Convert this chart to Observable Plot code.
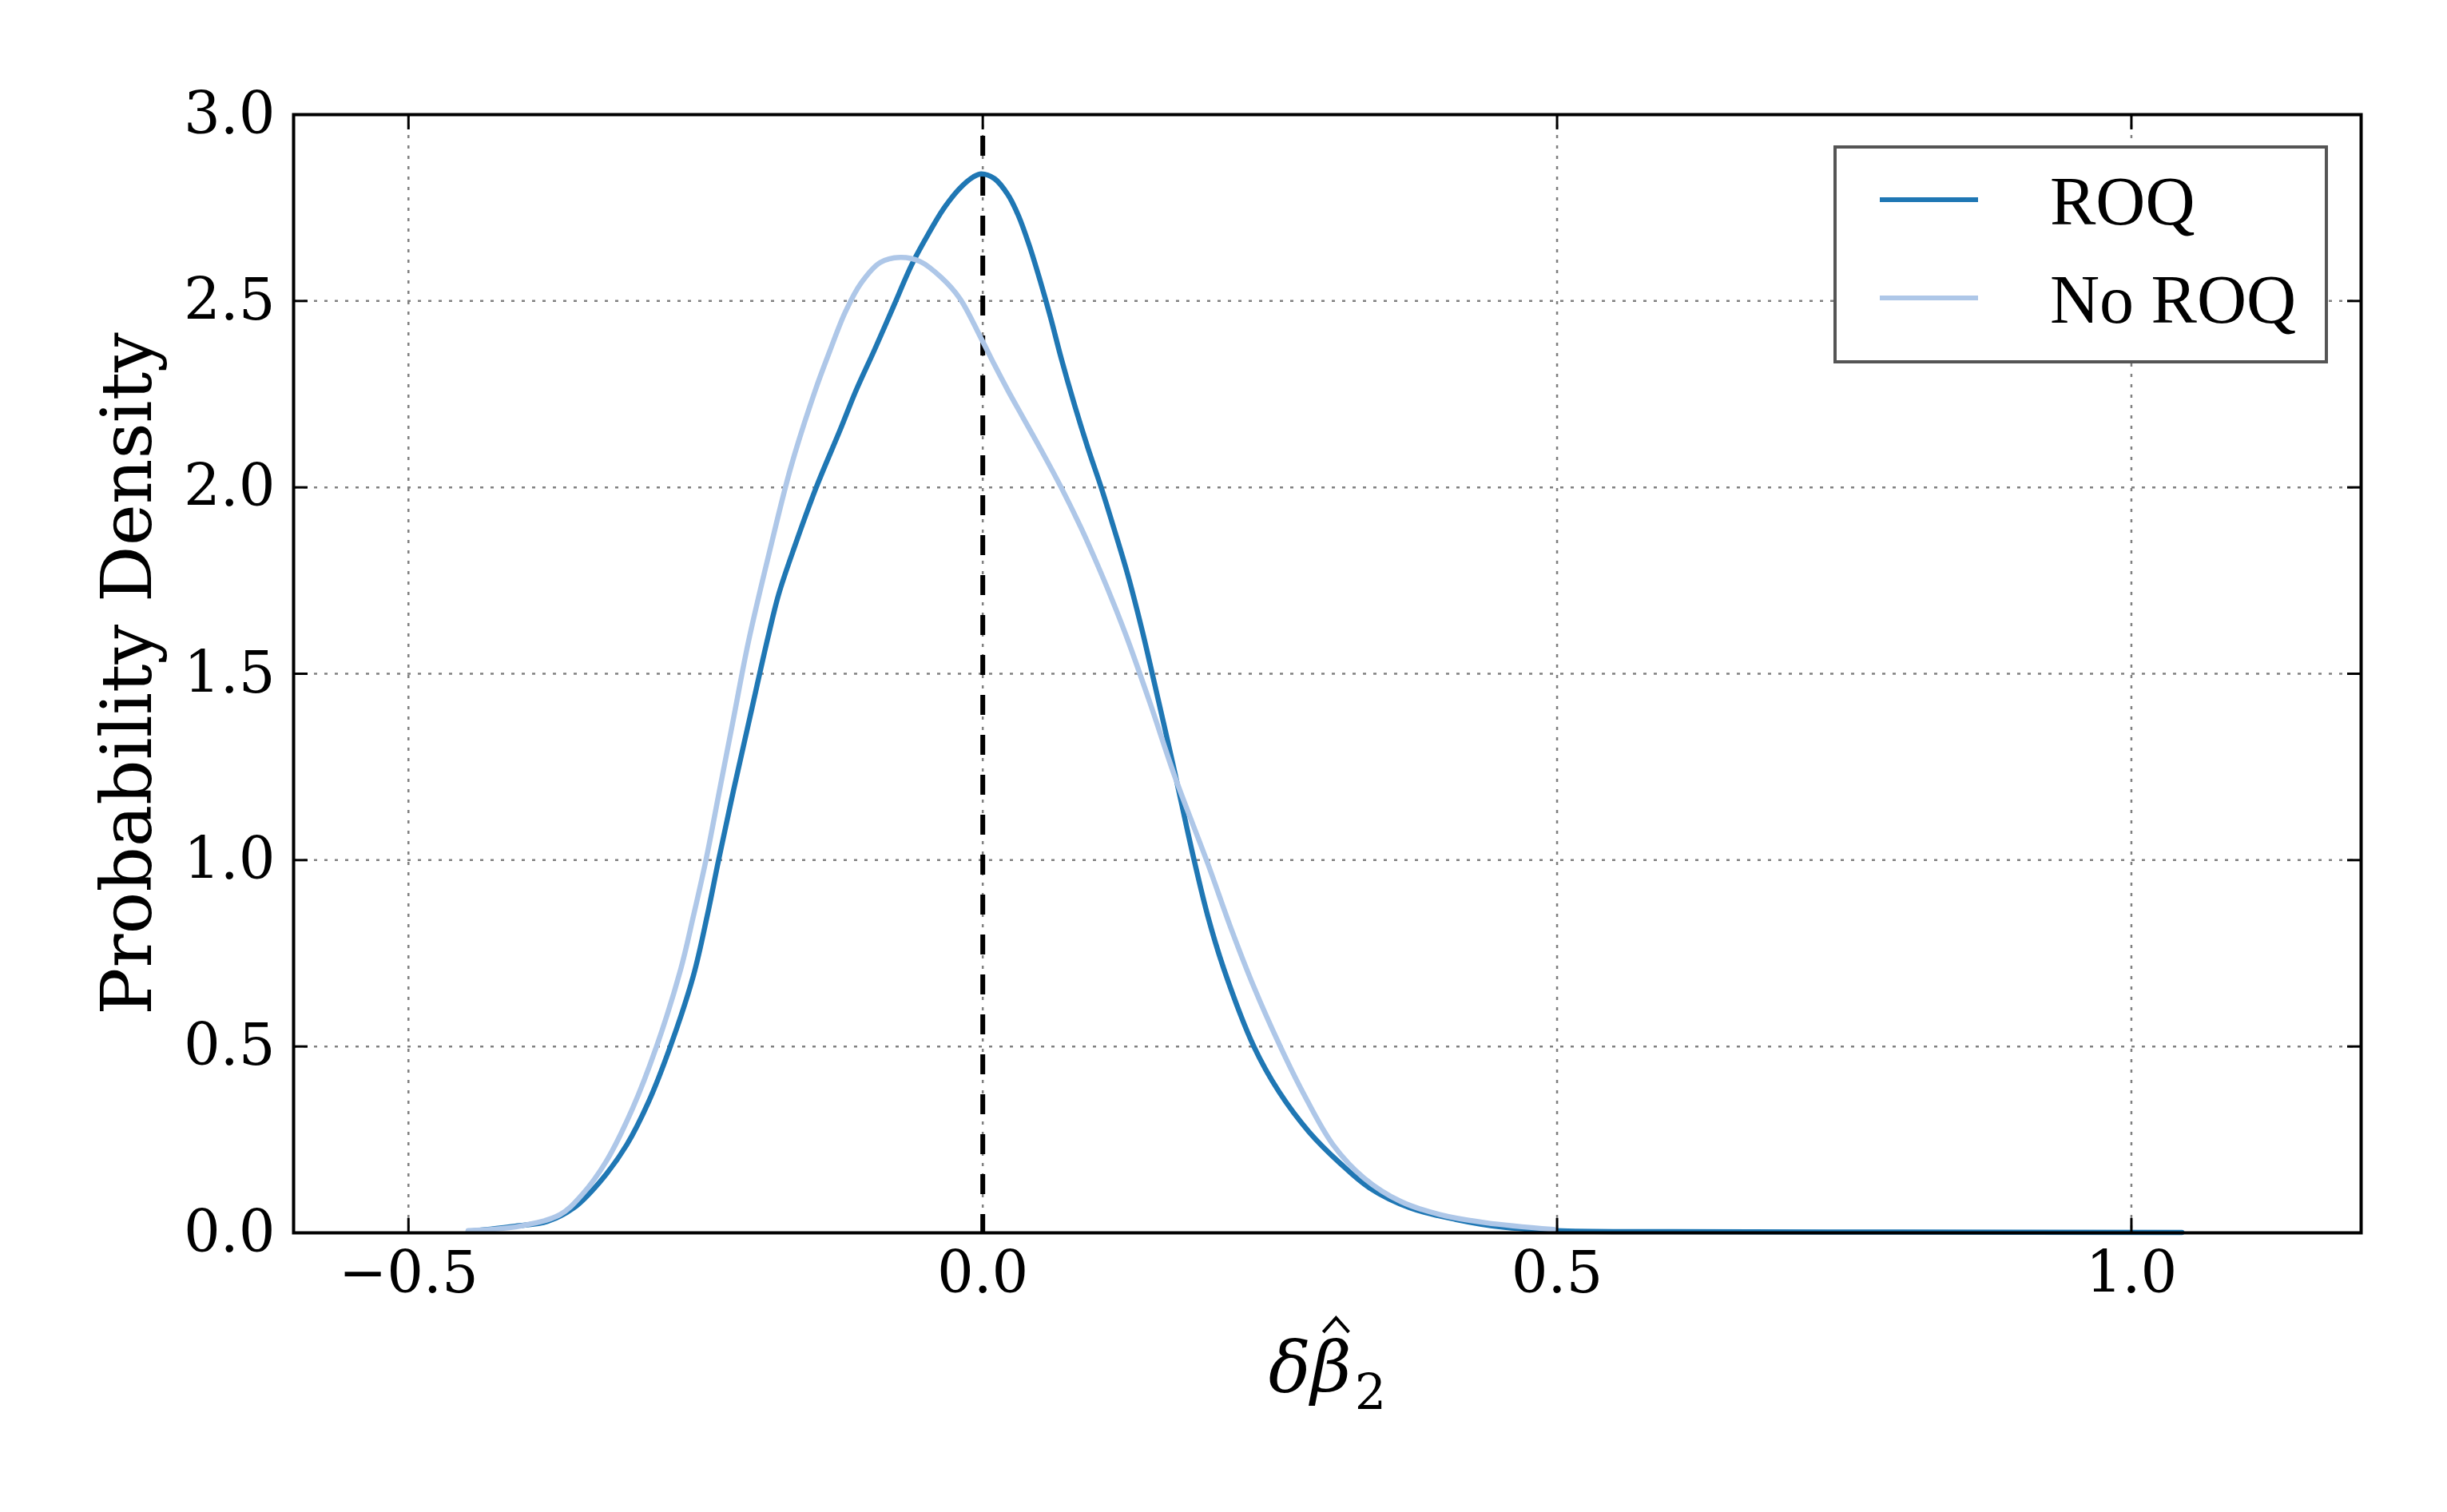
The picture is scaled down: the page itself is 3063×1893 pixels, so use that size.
<!DOCTYPE html>
<html>
<head>
<meta charset="utf-8">
<script src="https://cdn.jsdelivr.net/npm/d3@7"></script>
<script src="https://cdn.jsdelivr.net/npm/@observablehq/plot@0.6"></script>
<style>
  html, body { margin: 0; padding: 0; background: white; }
  #chart { position: relative; width: 3063px; height: 1893px; }
</style>
</head>
<body>
<div id="chart"></div>
<script>
// ---- Data ----
const roqX = [-0.448, -0.407, -0.379, -0.356, -0.333, -0.310, -0.291, -0.272, -0.252, -0.240, -0.230, -0.217, -0.2023, -0.1869, -0.1776, -0.1637, -0.1451, -0.1242, -0.1103, -0.0941, -0.0778, -0.0616, -0.0477, -0.0338, -0.0198, -0.0082, -0.0013, 0.0103, 0.0219, 0.0312, 0.0405, 0.0498, 0.0590, 0.0684, 0.0799, 0.0915, 0.1032, 0.1147, 0.1263, 0.1391, 0.1457, 0.165, 0.184, 0.196, 0.210, 0.236, 0.258, 0.284, 0.311, 0.337, 0.372, 0.412, 0.451, 0.499, 0.600, 0.800, 1.044];
const roqY = [0.004, 0.018, 0.031, 0.067, 0.138, 0.236, 0.351, 0.500, 0.689, 0.849, 1.000, 1.187, 1.389, 1.599, 1.714, 1.842, 1.999, 2.154, 2.260, 2.370, 2.485, 2.599, 2.678, 2.749, 2.803, 2.833, 2.841, 2.828, 2.785, 2.728, 2.649, 2.556, 2.456, 2.345, 2.221, 2.106, 1.999, 1.885, 1.765, 1.612, 1.525, 1.265, 1.000, 0.849, 0.707, 0.500, 0.378, 0.271, 0.187, 0.120, 0.067, 0.036, 0.016, 0.006, 0.003, 0.002, 0.001];

const noRoqX = [-0.448, -0.403, -0.368, -0.349, -0.328, -0.305, -0.284, -0.263, -0.252, -0.241, -0.229, -0.217, -0.204, -0.185, -0.167, -0.1463, -0.1335, -0.1196, -0.1057, -0.0894, -0.0720, -0.0546, -0.0361, -0.0198, -0.0013, 0.0103, 0.0219, 0.0498, 0.0684, 0.085, 0.0985, 0.1124, 0.1263, 0.146, 0.167, 0.196, 0.215, 0.236, 0.259, 0.279, 0.305, 0.332, 0.364, 0.398, 0.438, 0.497];
const noRoqY = [0.006, 0.018, 0.049, 0.102, 0.191, 0.333, 0.500, 0.707, 0.849, 1.000, 1.190, 1.380, 1.586, 1.836, 2.055, 2.256, 2.363, 2.471, 2.549, 2.603, 2.617, 2.606, 2.563, 2.506, 2.399, 2.328, 2.260, 2.106, 1.999, 1.895, 1.802, 1.700, 1.590, 1.418, 1.226, 0.990, 0.826, 0.660, 0.500, 0.375, 0.236, 0.147, 0.084, 0.049, 0.027, 0.009];

const xTicks = [-0.5, 0.0, 0.5, 1.0];
const yTicks = [0.0, 0.5, 1.0, 1.5, 2.0, 2.5, 3.0];
const seriesNames = ["ROQ", "No ROQ"];
const seriesColors = ["#1f77b4", "#aec7e8"];
const referenceLine = [0];
const xLabel = "δβ̂₂";
const yLabel = "Probability Density";

const roq = roqX.map((x, i) => ({x, y: roqY[i]}));
const noRoq = noRoqX.map((x, i) => ({x, y: noRoqY[i]}));

const fmt = d => d3.format(".1f")(d).replace("-", "−");
const gridStyle = {stroke: "#808080", strokeOpacity: 1, strokeWidth: 2.5, strokeDasharray: "4,9"};

const chart = Plot.plot({
  width: 3063,
  height: 1893,
  marginLeft: 367,
  marginRight: 108,
  marginTop: 143,
  marginBottom: 350,
  style: {fontFamily: "'DejaVu Serif', serif", fontSize: "72px", background: "white", color: "black"},
  x: {domain: [-0.6, 1.2]},
  y: {domain: [0, 3]},
  marks: [
    Plot.gridX(xTicks, gridStyle),
    Plot.gridY(yTicks, gridStyle),
    Plot.ruleX(referenceLine, {stroke: "black", strokeWidth: 6, strokeDasharray: "25,25", strokeDashoffset: 23}),
    Plot.line(roq, {x: "x", y: "y", stroke: seriesColors[0], strokeWidth: 6.5, curve: "catmull-rom"}),
    Plot.line(noRoq, {x: "x", y: "y", stroke: seriesColors[1], strokeWidth: 6.5, curve: "catmull-rom"}),
    Plot.axisX(xTicks, {anchor: "bottom", tickSize: -18, tickPadding: 41, strokeWidth: 3, tickFormat: fmt, label: null, fontSize: 72}),
    Plot.axisX(xTicks, {anchor: "top", tickSize: -18, strokeWidth: 3, tickFormat: () => "", label: null}),
    Plot.axisY(yTicks, {anchor: "left", tickSize: -18, tickPadding: 41, strokeWidth: 3, tickFormat: fmt, label: null, fontSize: 72}),
    Plot.axisY(yTicks, {anchor: "right", tickSize: -18, strokeWidth: 3, tickFormat: () => "", label: null}),
    Plot.frame({stroke: "black", strokeWidth: 4}),
    Plot.text([yLabel], {frameAnchor: "left", dx: -207, rotate: -90, textAnchor: "middle", fontSize: 88, fill: "black"}),
    Plot.text([xLabel], {frameAnchor: "bottom", dy: 198, textAnchor: "middle", fontSize: 88, fill: "black"})
  ]
});

document.getElementById("chart").appendChild(chart);

// x label: italic delta-beta, a drawn hat over beta, and an upright subscript 2
const svg = d3.select(chart);
svg.selectAll("text").filter(function() { return this.textContent === xLabel; }).each(function() {
  const node = this;
  const t = d3.select(node);
  t.text(null);
  t.append("tspan").attr("font-style", "italic").text("δβ");
  t.append("tspan").attr("dx", 4).attr("dy", 22).attr("font-size", 62).text("2");
  try {
    const ext = node.getExtentOfChar(1);           // extent of β
    const base = ext.y + ext.height * 0.80;        // approx. baseline
    const cx = ext.x + ext.width * 0.62;           // italic slant shifts the top to the right
    const yb = base - 74, yt = base - 92, hw = 16;
    d3.select(node.parentNode).append("path")
      .attr("transform", node.getAttribute("transform"))
      .attr("d", `M${cx - hw},${yb}L${cx},${yt}L${cx + hw},${yb}`)
      .attr("fill", "none").attr("stroke", "black").attr("stroke-width", 4)
      .attr("stroke-linejoin", "miter");
  } catch (e) {
    t.select("tspan").text("δβ̂");
  }
});

// Legend (upper right, inside the axes)
const lg = svg.append("g").attr("class", "legend");
lg.append("rect").attr("x", 2297).attr("y", 184).attr("width", 615).attr("height", 269)
  .attr("fill", "white").attr("stroke", "#555555").attr("stroke-width", 4);
seriesNames.forEach((name, i) => {
  const yy = 250 + i * 123;
  lg.append("line").attr("x1", 2353).attr("x2", 2476).attr("y1", yy).attr("y2", yy)
    .attr("stroke", seriesColors[i]).attr("stroke-width", 6);
  lg.append("text").attr("x", 2566).attr("y", yy + 31)
    .attr("text-anchor", "start")
    .attr("font-family", "'Liberation Serif', serif").attr("font-size", 86).attr("fill", "black")
    .text(name);
});
</script>
</body>
</html>
